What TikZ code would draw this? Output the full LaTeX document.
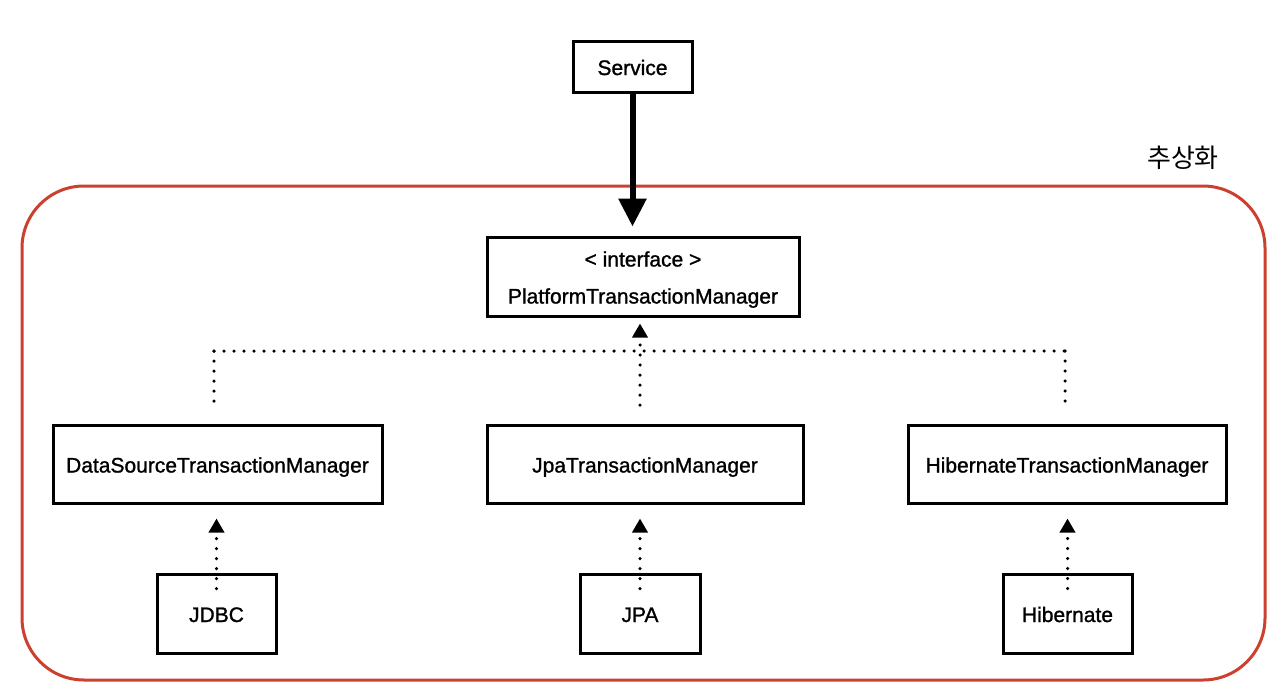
\documentclass[tikz,border=0pt]{standalone}
\usepackage{fontspec}
\setmainfont{Liberation Sans}
\newfontfamily\boxfont{Liberation Sans}[FakeBold=1.2]
\newfontfamily\krfont{Noto Sans CJK KR}
\usetikzlibrary{arrows.meta}
\definecolor{abred}{RGB}{204,64,48}
\begin{document}
\begin{tikzpicture}[x=1pt,y=-1pt,
  box/.style={draw=black,line width=3pt,minimum width=#1,inner sep=0pt,align=center,
    font=\boxfont\fontsize{21}{37}\selectfont,text height=21pt,text depth=4pt},
  dotline/.style={line width=3.5pt,line cap=round,dash pattern=on 0pt off 10pt},
  dotarrow/.style={dotline,-{Triangle[width=15pt,length=14pt,line cap=butt]}},
]
\useasboundingbox (0,0) rectangle (1280,694);
\draw[abred,line width=3pt,rounded corners=62pt] (22,186) rectangle (1265,680);
\node[font=\krfont\fontsize{26}{26}\selectfont] (lbl) at (1183,158) {추상화};

\node[box=119pt,minimum height=51pt] (svc) at (632.5,66.5) {Service};
\node[box=312pt,minimum height=79pt,text height=58pt] (pi) at (643,276.5) {< interface >\\PlatformTransactionManager};
\node[box=329pt,minimum height=78pt] (ds) at (217.5,464) {DataSourceTransactionManager};
\node[box=316pt,minimum height=78pt] (jtm) at (645,464) {JpaTransactionManager};
\node[box=318pt,minimum height=78pt] (htm) at (1067,464) {HibernateTransactionManager};
\node[box=119pt,minimum height=79pt] (jdbc) at (216.5,613.5) {JDBC};
\node[box=120pt,minimum height=79pt] (jpa) at (640,613.5) {JPA};
\node[box=129pt,minimum height=79pt] (hib) at (1067.5,613.5) {Hibernate};

\draw[line width=6pt,-{Triangle[width=27pt,length=28pt]},shorten >=9pt] (svc.south) -- (svc.south |- pi.north);

\coordinate (busL) at (214,351);
\coordinate (busR) at (1065,351);
\draw[dotline] (busL) -- (busR);
\draw[dotline] (busL) -- ++(0,54);
\draw[dotline] (busR) -- ++(0,54);
\coordinate (midB) at (640,405);
\draw[dotarrow,shorten >=6pt] (midB) -- (midB |- pi.south);

\draw[dotarrow,shorten >=14pt,shorten <=-16pt] (jdbc.north) -- (jdbc.north |- ds.south);
\draw[dotarrow,shorten >=14pt,shorten <=-16pt] (jpa.north) -- (jpa.north |- jtm.south);
\draw[dotarrow,shorten >=14pt,shorten <=-16pt] (hib.north) -- (hib.north |- htm.south);
\end{tikzpicture}
\end{document}
